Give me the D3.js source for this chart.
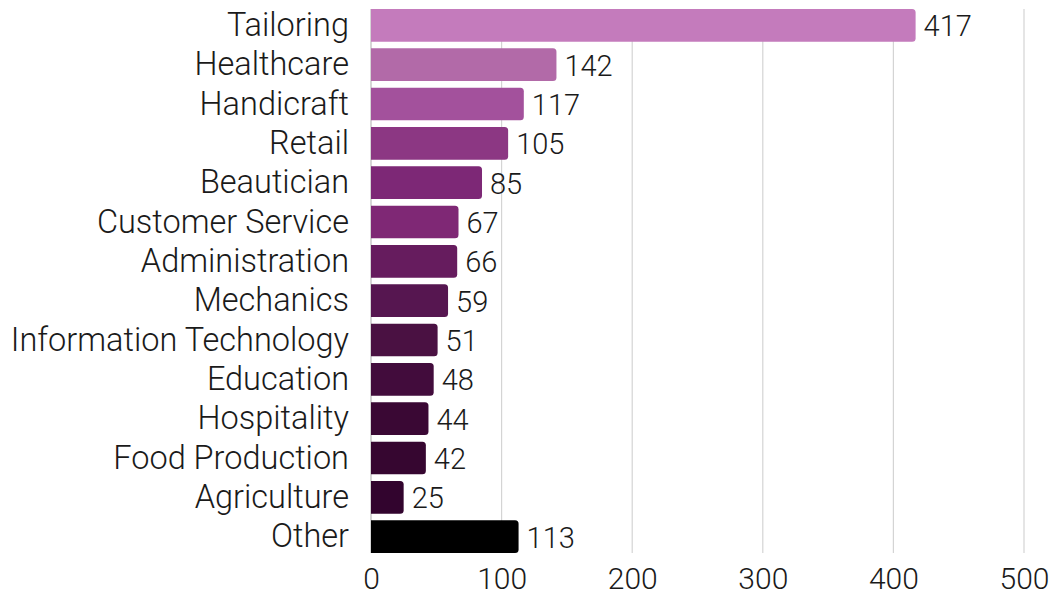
<!DOCTYPE html>
<html><head><meta charset="utf-8">
<script src="https://cdn.jsdelivr.net/npm/d3@7"></script>
<style>
html,body{margin:0;padding:0;background:#fff;}
text{font-family:Roboto,"Noto Sans",sans-serif;font-weight:300;}
</style></head>
<body><svg id="c" width="1063" height="596"></svg>
<script>
const categories = ["Tailoring","Healthcare","Handicraft","Retail","Beautician","Customer Service","Administration","Mechanics","Information Technology","Education","Hospitality","Food Production","Agriculture","Other"];
const values = [417,142,117,105,85,67,66,59,51,48,44,42,25,113];
const colors = ["#c47bbc","#b26aa8","#a3519c","#8c3783","#7d2876","#7f2875","#661c5e","#561650","#4a1142","#420c3c","#3a0834","#360630","#32042e","#000000"];
const xTicks = [0,100,200,300,400,500];

const svg = d3.select("#c");
const x = d3.scaleLinear().domain([0,500]).range([371,1024]);
const y = d3.scaleBand().domain(categories).range([9,553]).paddingInner(0.17).paddingOuter(0);

// gridlines
svg.append("g").selectAll("line").data(xTicks).join("line")
  .attr("x1",d=>x(d)).attr("x2",d=>x(d)).attr("y1",9).attr("y2",553)
  .attr("stroke",d=>d===0?"#bbb":"#d4d4d4").attr("stroke-width",1.2);

const r = 3.5;
function barPath(d,i){
  const x0=x(0), x1=x(d), y0=y(categories[i]), h=y.bandwidth();
  return `M${x0},${y0}H${x1-r}Q${x1},${y0} ${x1},${y0+r}V${y0+h-r}Q${x1},${y0+h} ${x1-r},${y0+h}H${x0}Z`;
}
svg.append("g").selectAll("path").data(values).join("path")
  .attr("d",barPath).attr("fill",(d,i)=>colors[i]);

// value labels
svg.append("g").selectAll("text").data(values).join("text")
  .attr("x",d=>x(d)+8).attr("y",(d,i)=>y(categories[i])+y.bandwidth()/2)
  .attr("dy","0.38em").attr("font-size",29).attr("fill","#1a1a1a").text(d=>d);

// category labels
svg.append("g").selectAll("text").data(categories).join("text")
  .attr("x",349).attr("y",d=>y(d)+y.bandwidth()/2).attr("dy","0.33em")
  .attr("text-anchor","end").attr("font-size",32.5).attr("fill","#1a1a1a").text(d=>d);

// x tick labels
const ax = svg.append("g").attr("transform","translate(0,589)")
  .call(d3.axisBottom(x).tickValues(xTicks).tickSize(0).tickPadding(0));
ax.select(".domain").remove();
ax.selectAll("text").attr("font-size",30).attr("fill","#1a1a1a").attr("font-family","Roboto,sans-serif").attr("font-weight",300).attr("dy","0");
</script></body></html>
